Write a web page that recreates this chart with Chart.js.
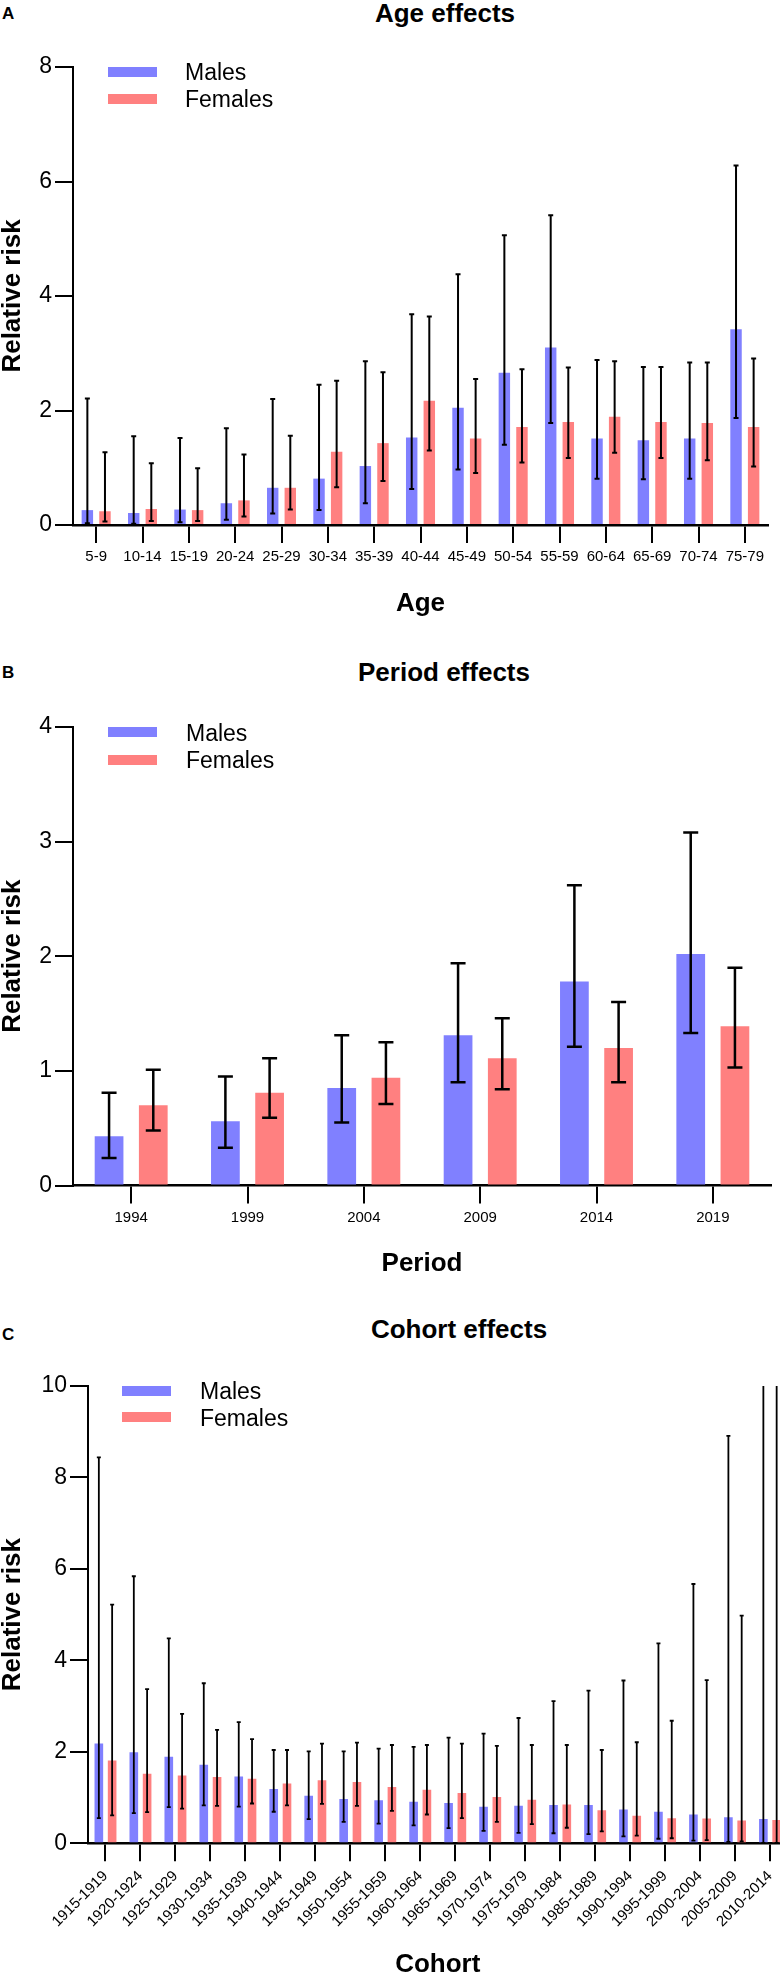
<!DOCTYPE html>
<html>
<head>
<meta charset="utf-8">
<script src="https://cdn.jsdelivr.net/npm/chart.js@4.4.1/dist/chart.umd.min.js"></script>
<style>
  html, body { margin: 0; padding: 0; background: #fff; overflow: hidden; }
  #page { position: relative; width: 780px; height: 1978px; overflow: hidden; font-family: 'Liberation Sans', Arial, sans-serif; color: #000; }
  canvas { position: absolute; left: 0; }
  .title { position: absolute; width: 400px; text-align: center; font-size: 26px; line-height: 26px; font-weight: bold; }
  .panel { position: absolute; left: 2px; font-size: 17px; line-height: 17px; font-weight: bold; }
  .swatch { position: absolute; width: 49px; height: 10px; }
  .legtext { position: absolute; font-size: 23px; line-height: 23px; }
</style>
</head>
<body>
<div id="page">
  <div class="panel" style="top:5px">A</div>
  <div class="title" style="left:245px; top:0px">Age effects</div>
  <canvas id="ageChart" width="780" height="620" style="top:0px"></canvas>
  <div class="swatch" style="left:108px; top:67px; background:#8080ff"></div>
  <div class="legtext" style="left:185px; top:61px">Males</div>
  <div class="swatch" style="left:108px; top:94px; background:#ff8080"></div>
  <div class="legtext" style="left:185px; top:88px">Females</div>

  <div class="panel" style="top:664px">B</div>
  <div class="title" style="left:244px; top:659px">Period effects</div>
  <canvas id="periodChart" width="780" height="650" style="top:630px"></canvas>
  <div class="swatch" style="left:108px; top:727px; background:#8080ff"></div>
  <div class="legtext" style="left:186px; top:722px">Males</div>
  <div class="swatch" style="left:108px; top:755px; background:#ff8080"></div>
  <div class="legtext" style="left:186px; top:749px">Females</div>

  <div class="panel" style="top:1326px">C</div>
  <div class="title" style="left:259px; top:1316px">Cohort effects</div>
  <canvas id="cohortChart" width="790" height="700" style="top:1290px"></canvas>
  <div class="swatch" style="left:122px; top:1386px; background:#8080ff"></div>
  <div class="legtext" style="left:200px; top:1380px">Males</div>
  <div class="swatch" style="left:122px; top:1412px; background:#ff8080"></div>
  <div class="legtext" style="left:200px; top:1407px">Females</div>
</div>

<script>
// Age effects
const ageLabels = ['5-9', '10-14', '15-19', '20-24', '25-29', '30-34', '35-39', '40-44', '45-49', '50-54', '55-59', '60-64', '65-69', '70-74', '75-79'];
const ageMales = [0.26, 0.21, 0.27, 0.38, 0.65, 0.81, 1.03, 1.53, 2.05, 2.66, 3.10, 1.51, 1.48, 1.51, 3.42];
const ageMalesLow = [0.03, 0.02, 0.05, 0.09, 0.20, 0.26, 0.38, 0.63, 0.97, 1.40, 1.78, 0.81, 0.80, 0.81, 1.87];
const ageMalesHigh = [2.21, 1.55, 1.52, 1.69, 2.20, 2.45, 2.86, 3.68, 4.38, 5.06, 5.41, 2.88, 2.76, 2.84, 6.28];
const ageFemales = [0.24, 0.28, 0.26, 0.43, 0.65, 1.28, 1.43, 2.17, 1.51, 1.71, 1.80, 1.89, 1.80, 1.78, 1.71];
const ageFemalesLow = [0.06, 0.07, 0.07, 0.15, 0.27, 0.66, 0.77, 1.30, 0.91, 1.09, 1.17, 1.26, 1.17, 1.13, 1.02];
const ageFemalesHigh = [1.27, 1.08, 0.99, 1.23, 1.56, 2.52, 2.67, 3.64, 2.55, 2.72, 2.75, 2.86, 2.76, 2.84, 2.91];

// Period effects
const periodLabels = ['1994', '1999', '2004', '2009', '2014', '2019'];
const periodMales = [0.43, 0.56, 0.85, 1.31, 1.78, 2.02];
const periodMalesLow = [0.24, 0.33, 0.55, 0.90, 1.21, 1.33];
const periodMalesHigh = [0.81, 0.95, 1.31, 1.94, 2.62, 3.08];
const periodFemales = [0.70, 0.81, 0.94, 1.11, 1.20, 1.39];
const periodFemalesLow = [0.48, 0.59, 0.71, 0.84, 0.90, 1.03];
const periodFemalesHigh = [1.01, 1.11, 1.25, 1.46, 1.60, 1.90];

// Cohort effects (last upper limits run off the top of the axis)
const cohortLabels = ['1915-1919', '1920-1924', '1925-1929', '1930-1934', '1935-1939', '1940-1944', '1945-1949', '1950-1954', '1955-1959', '1960-1964', '1965-1969', '1970-1974', '1975-1979', '1980-1984', '1985-1989', '1990-1994', '1995-1999', '2000-2004', '2005-2009', '2010-2014'];
const cohortMales = [2.18, 1.99, 1.89, 1.72, 1.46, 1.19, 1.04, 0.97, 0.94, 0.91, 0.88, 0.80, 0.82, 0.84, 0.84, 0.74, 0.69, 0.63, 0.57, 0.53];
const cohortMalesLow = [0.55, 0.66, 0.79, 0.83, 0.80, 0.69, 0.53, 0.47, 0.43, 0.39, 0.33, 0.27, 0.23, 0.22, 0.20, 0.15, 0.10, 0.06, 0.03, 0.01];
const cohortMalesHigh = [8.44, 5.84, 4.48, 3.50, 2.65, 2.04, 2.01, 2.01, 2.07, 2.11, 2.31, 2.40, 2.74, 3.11, 3.34, 3.56, 4.37, 5.67, 8.91, 12];
const cohortFemales = [1.81, 1.52, 1.48, 1.45, 1.41, 1.31, 1.38, 1.34, 1.23, 1.17, 1.10, 1.01, 0.95, 0.85, 0.72, 0.60, 0.55, 0.54, 0.50, 0.51];
const cohortFemalesLow = [0.61, 0.68, 0.76, 0.82, 0.87, 0.83, 0.86, 0.82, 0.71, 0.63, 0.55, 0.47, 0.42, 0.34, 0.26, 0.17, 0.11, 0.07, 0.04, 0.01];
const cohortFemalesHigh = [5.22, 3.37, 2.83, 2.48, 2.28, 2.04, 2.18, 2.20, 2.15, 2.15, 2.18, 2.13, 2.15, 2.15, 2.04, 2.21, 2.68, 3.57, 4.98, 12];

const FONT = "'Liberation Sans', Arial, sans-serif";
const BLUE = '#8080ff';
const RED = '#ff8080';

// draws the CI whiskers on top of each bar
const errorBars = {
    id: 'errorBars',
    afterDatasetsDraw(chart, args, opts) {
        const ctx = chart.ctx;
        const yScale = chart.scales.y;
        const area = chart.chartArea;
        const half = opts.capWidth / 2;
        ctx.save();
        ctx.strokeStyle = '#000';
        ctx.lineWidth = opts.lineWidth;
        chart.data.datasets.forEach((ds, i) => {
            chart.getDatasetMeta(i).data.forEach((bar, j) => {
                const x = bar.x;
                const bottom = yScale.getPixelForValue(ds.low[j]);
                let top = yScale.getPixelForValue(ds.high[j]);
                const clipped = top < area.top;
                if (clipped) top = area.top;
                ctx.beginPath();
                ctx.moveTo(x, bottom);
                ctx.lineTo(x, top);
                if (!clipped) {
                    ctx.moveTo(x - half, top);
                    ctx.lineTo(x + half, top);
                }
                ctx.moveTo(x - half, bottom);
                ctx.lineTo(x + half, bottom);
                ctx.stroke();
            });
        });
        ctx.restore();
    }
};

function makeChart(id, labels, males, malesLow, malesHigh, females, femalesLow, femalesHigh, cfg) {
    const ctx = document.getElementById(id).getContext('2d');
    return new Chart(ctx, {
        type: 'bar',
        data: {
            labels: labels,
            datasets: [
                { label: 'Males', data: males, low: malesLow, high: malesHigh, backgroundColor: BLUE,
                  categoryPercentage: 0.76, barPercentage: 0.65 },
                { label: 'Females', data: females, low: femalesLow, high: femalesHigh, backgroundColor: RED,
                  categoryPercentage: 0.76, barPercentage: 0.65 }
            ]
        },
        options: {
            responsive: false,
            animation: false,
            layout: { padding: { top: cfg.padTop, right: cfg.padRight, bottom: 0, left: 0 } },
            plugins: {
                legend: { display: false },
                tooltip: { enabled: false },
                errorBars: { lineWidth: cfg.errWidth, capWidth: cfg.capWidth }
            },
            scales: {
                x: {
                    offset: true,
                    grid: { offset: false, drawOnChartArea: false, tickLength: 18, color: '#000', lineWidth: 2 },
                    border: { display: true, color: '#000', width: 2.5 },
                    ticks: { color: '#000', font: { family: FONT, size: 15 }, padding: cfg.xPad, autoSkip: false,
                             maxRotation: cfg.rotation, minRotation: cfg.rotation },
                    title: { display: true, text: cfg.xTitle, color: '#000', padding: { top: 0, bottom: cfg.xTitlePad },
                             font: { family: FONT, size: 26, weight: 'bold', lineHeight: 1 } },
                    afterFit: (scale) => { scale.height = cfg.xHeight; }
                },
                y: {
                    min: 0,
                    max: cfg.yMax,
                    grid: { drawOnChartArea: false, tickLength: 18, color: '#000', lineWidth: 2 },
                    border: { display: true, color: '#000', width: 2 },
                    ticks: { stepSize: cfg.yStep, color: '#000', font: { family: FONT, size: 23 }, padding: 3 },
                    title: { display: true, text: 'Relative risk', color: '#000', padding: 0,
                             font: { family: FONT, size: 26, weight: 'bold', lineHeight: 1 } },
                    afterFit: (scale) => { scale.width = cfg.yWidth; }
                }
            }
        },
        plugins: [errorBars]
    });
}

makeChart('ageChart', ageLabels, ageMales, ageMalesLow, ageMalesHigh, ageFemales, ageFemalesLow, ageFemalesHigh, {
    padTop: 67, padRight: 12, yWidth: 73, xHeight: 95, xPad: 5, xTitlePad: 3, rotation: 0,
    yMax: 8, yStep: 2, xTitle: 'Age', errWidth: 2, capWidth: 5
});

makeChart('periodChart', periodLabels, periodMales, periodMalesLow, periodMalesHigh, periodFemales, periodFemalesLow, periodFemalesHigh, {
    padTop: 97, padRight: 9, yWidth: 73, xHeight: 94.5, xPad: 5, xTitlePad: 3, rotation: 0,
    yMax: 4, yStep: 1, xTitle: 'Period', errWidth: 2.5, capWidth: 15
});

makeChart('cohortChart', cohortLabels, cohortMales, cohortMalesLow, cohortMalesHigh, cohortFemales, cohortFemalesLow, cohortFemalesHigh, {
    padTop: 96, padRight: 2.5, yWidth: 88, xHeight: 146.7, xPad: 6, xTitlePad: 12, rotation: 45,
    yMax: 10, yStep: 2, xTitle: 'Cohort', errWidth: 1.8, capWidth: 4
});
</script>
</body>
</html>
